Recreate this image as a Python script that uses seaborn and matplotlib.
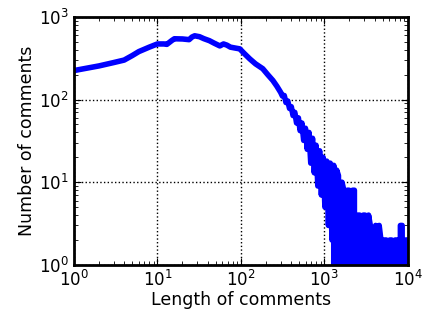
import pandas as pd
from matplotlib import pyplot as plt
import seaborn as sns

# smooth head of the distribution (length, count)
head_len = [1, 2, 3, 4, 5, 6, 8, 10, 12, 13, 15, 16, 20, 24, 26, 28, 32, 36, 42,
            48, 56, 62, 68, 75, 85, 97, 110, 128, 150, 183, 210, 242, 270]
head_cnt = [224, 255, 280, 300, 340, 380, 430, 470, 470, 465, 520, 543, 540, 530, 570, 590, 575, 545, 515,
            480, 445, 470, 455, 430, 420, 410, 360, 310, 270, 236, 200, 170, 145]

# noisy middle part
mid_len = [300, 315, 331, 347, 365, 383, 402, 422, 443, 465, 489, 513, 539, 566, 594, 624,
           655, 688, 722, 758, 796, 836, 878, 922, 968, 1016, 1067, 1120, 1176, 1235, 1297]
mid_cnt = [122, 110, 112, 92, 96, 78, 82, 64, 70, 52, 60, 42, 52, 32, 45, 25,
           40, 17, 34, 13, 28, 9, 24, 7, 20, 5, 18, 3, 17, 2, 16]

# long tail: only a handful of comments per length
tail_len = [1340, 1407, 1477, 1551, 1629, 1710, 1796, 1886, 1980, 2079, 2183, 2292, 2407, 2527,
            2653, 2786, 2925, 3072, 3225, 3386, 3556, 3734, 3920, 4116, 4322, 4538, 4765, 5003,
            5253, 5516, 5792, 6081, 6385, 6705, 7040, 7392, 7762, 8150, 8557, 8985, 9434, 9906, 10000]
tail_cnt = [0, 14, 12, 0, 10, 8, 0, 8, 8, 0, 8, 8, 0, 4,
            4, 0, 4, 4, 0, 4, 3, 0, 2, 3, 0, 3, 2, 0,
            2, 2, 0, 2, 2, 0, 2, 2, 0, 3, 3, 0, 2, 2, 2]

df = pd.DataFrame({'length': head_len + mid_len + tail_len,
                   'count': head_cnt + mid_cnt + tail_cnt})

sns.set_style('ticks')
plt.rcParams['font.family'] = ['DejaVu Sans']

fig = plt.figure(figsize=(4.32, 3.12), dpi=100)
ax = fig.add_axes([0.171, 0.151, 0.773, 0.795])
sns.lineplot(data=df, x='length', y='count', ax=ax, color='#0000ff', linewidth=4,
             estimator=None, sort=False)
ax.set_xscale('log')
ax.set_yscale('log')
ax.set_xlim(1, 1e4)
ax.set_ylim(1, 1e3)
ax.grid(True, which='major', color='black', linestyle=':', linewidth=1)
ax.tick_params(which='both', direction='in', top=True, right=True, labelsize=12,
               color='black', labelcolor='black')
ax.tick_params(which='major', length=5)
ax.tick_params(which='minor', length=3)
for s in ax.spines.values():
    s.set_linewidth(2)
    s.set_color('black')
ax.set_xlabel('Length of comments', fontsize=12.5, labelpad=1, color='black')
ax.set_ylabel('Number of comments', fontsize=12.5, labelpad=2, color='black')

fig.savefig('out.png', dpi=100)
